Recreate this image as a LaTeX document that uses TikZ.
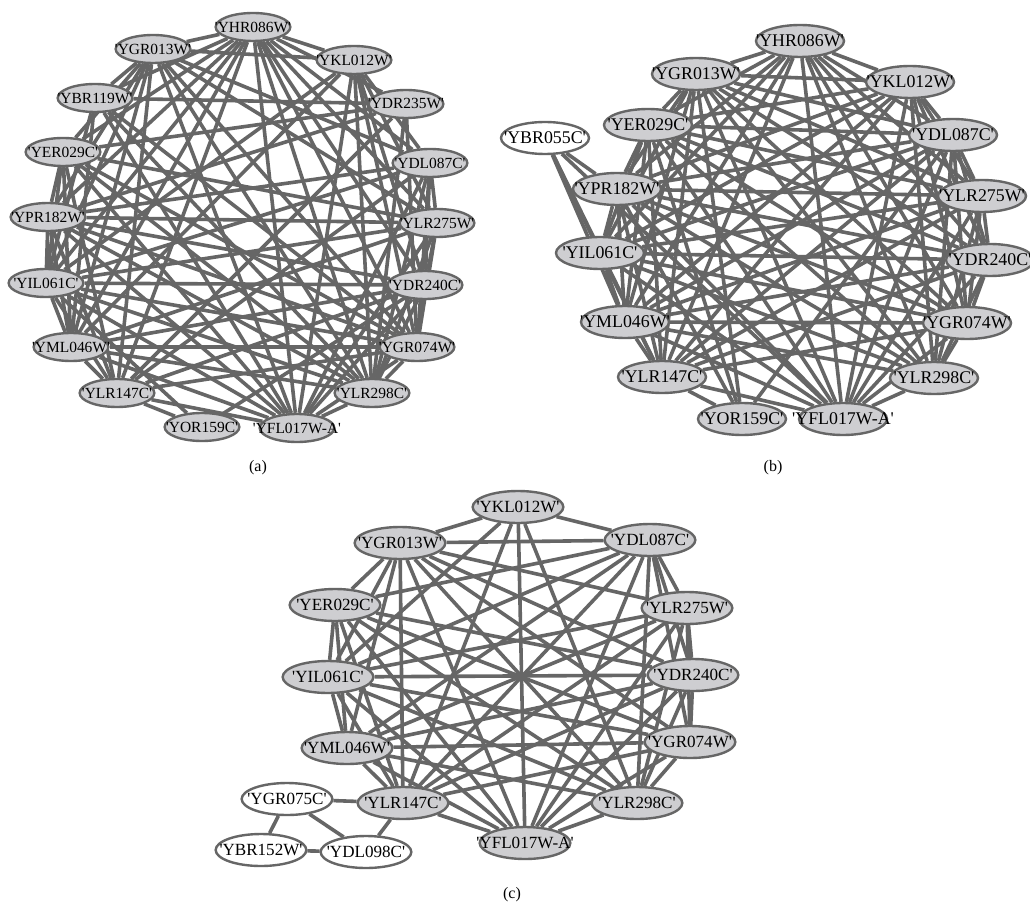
\documentclass[tikz,border=0pt]{standalone}
\usepackage{fontspec}
\setmainfont{Liberation Serif}[Ligatures=TeXOff]
\usetikzlibrary{shapes.geometric,backgrounds}
\definecolor{edgec}{RGB}{102,102,102}
\definecolor{nfill}{RGB}{206,206,209}
\begin{document}
\begin{tikzpicture}[x=0.75pt,y=-0.75pt,
  gn/.style={ellipse, draw=edgec, line width=1.8pt, fill=nfill, inner sep=0pt},
  wn/.style={gn, fill=white},
  sa/.style={minimum width=56pt, minimum height=21pt, font=\fontsize{11.6}{12}\selectfont},
  sb/.style={minimum width=66pt, minimum height=24pt, font=\fontsize{13.4}{14}\selectfont},
  sc/.style={minimum width=68pt, minimum height=24pt, font=\fontsize{12.8}{13}\selectfont},
  edge/.style={draw=edgec, line width=2.7pt},
  captxt/.style={font=\fontsize{12}{13}\selectfont}]
\useasboundingbox (0,0) rectangle (1030,905);
\begin{scope}[on background layer]
\fill[white] (0,0) rectangle (1030,905);
\end{scope}
% ---------------- (a)
\foreach \n/\x/\y/\t in {
 a1/253/27/YHR086W, a2/153/49/YGR013W, a3/354/60/YKL012W, a4/95/98/YBR119W,
 a5/406/104/YDR235W, a6/63/152/YER029C, a7/430/163/YDL087C, a8/48/217/YPR182W,
 a9/437/223/YLR275W, a10/46/283/YIL061C, a11/425/285/YDR240C, a12/71/347/YML046W,
 a13/417/347/YGR074W, a14/117/393/YLR147C, a15/372/393/YLR298C, a16/202/427/YOR159C,
 a17/297/428/YFL017W-A}
 \node[gn,sa] (\n) at (\x,\y) {\makebox[0pt]{'\t'}};
\begin{scope}[on background layer]
\foreach \s/\ts in {
 a1/{a2,a3,a4,a5,a6,a7,a8,a9,a10,a11,a12,a13,a14,a15,a17},
 a2/{a3,a4,a6,a7,a8,a9,a10,a12,a13,a14,a15,a17},
 a3/{a7,a9,a10,a11,a12,a13,a15,a17},
 a4/{a5,a10,a12,a13,a15,a17},
 a5/{a6,a8,a13,a14,a15},
 a6/{a8,a9,a10,a12,a13,a14,a15,a17},
 a7/{a8,a9,a10,a11,a13,a14,a15,a17},
 a8/{a9,a10,a11,a12,a13,a14,a15,a17},
 a9/{a10,a11,a12,a13,a15,a17},
 a10/{a11,a12,a13,a14,a15,a16,a17},
 a11/{a12,a13,a14,a15,a16,a17},
 a12/{a13,a14,a15,a17},
 a13/{a14,a15,a17},
 a14/{a16,a17},
 a15/{a17}}
 \foreach \t in \ts \draw[edge] (\s) -- (\t);
\end{scope}
\node[captxt] (capa) at (258,468) {(a)};
% ---------------- (b)
\foreach \n/\x/\y/\t in {
 b1/800/41/YHR086W, b2/696/74/YGR013W, b3/910/82/YKL012W, b4/648/125/YER029C,
 b6/953/135/YDL087C, b7/617/189/YPR182W, b8/982/196/YLR275W,
 b9/600/253/YIL061C, b10/990/260/YDR240C, b11/625/322/YML046W, b12/967/323/YGR074W,
 b13/662/377/YLR147C, b14/934/378/YLR298C, b15/742/419/YOR159C, b16/843/419/YFL017W-A}
 \node[gn,sb] (\n) at (\x,\y) {\makebox[0pt]{'\t'}};
\node[wn,sb] (b5) at (545,138) {\makebox[0pt]{'YBR055C'}};
\begin{scope}[on background layer]
\foreach \s/\ts in {
 b1/{b2,b3,b4,b6,b7,b8,b9,b10,b11,b12,b13,b14,b16},
 b2/{b3,b4,b6,b7,b8,b9,b10,b11,b12,b13,b14,b15,b16},
 b3/{b4,b6,b7,b8,b9,b10,b11,b12,b13,b14,b16},
 b4/{b6,b7,b8,b9,b10,b11,b12,b13,b14,b15,b16},
 b5/{b7,b9,b11,b13,b16},
 b6/{b7,b8,b9,b10,b11,b12,b13,b14,b15,b16},
 b7/{b8,b9,b10,b11,b12,b13,b14,b15,b16},
 b8/{b9,b10,b11,b12,b13,b14,b16},
 b9/{b10,b11,b12,b13,b14,b16},
 b10/{b11,b12,b13,b14,b16},
 b11/{b12,b13,b14,b16},
 b12/{b13,b14,b16},
 b13/{b15,b16},
 b14/{b16}}
 \foreach \t in \ts \draw[edge] (\s) -- (\t);
\end{scope}
\node[captxt] (capb) at (773,468) {(b)};
% ---------------- (c)
\foreach \n/\x/\y/\t in {
 c1/518/507/YKL012W, c2/650/540/YDL087C, c3/687/608/YLR275W, c4/693/675/YDR240C,
 c5/690/742/YGR074W, c6/637/803/YLR298C, c7/525/843/YFL017W-A, c8/403/803/YLR147C,
 c9/347/748/YML046W, c10/328/677/YIL061C, c11/335/605/YER029C, c12/400/543/YGR013W}
 \node[gn,sc] (\n) at (\x,\y) {\makebox[0pt]{'\t'}};
\foreach \n/\x/\y/\t in {c13/287/799/YGR075C, c14/261/850/YBR152W, c15/366/852/YDL098C}
 \node[wn,sc] (\n) at (\x,\y) {\makebox[0pt]{'\t'}};
\begin{scope}[on background layer]
\foreach \s/\ts in {
 c1/{c2,c6,c7,c8,c10,c12},
 c2/{c3,c4,c5,c6,c7,c8,c9,c10,c11,c12},
 c3/{c4,c5,c6,c7,c8,c9,c10,c12},
 c4/{c5,c6,c7,c8,c9,c10,c11,c12},
 c5/{c6,c7,c8,c9,c10,c11,c12},
 c6/{c7,c9,c10,c11,c12},
 c7/{c8,c9,c10,c11,c12},
 c8/{c9,c10,c11,c12,c13,c15},
 c9/{c10,c11,c12},
 c10/{c11,c12},
 c11/{c12},
 c13/{c14,c15},
 c14/{c15}}
 \foreach \t in \ts \draw[edge] (\s) -- (\t);
\end{scope}
\node[captxt] (capc) at (512,895) {(c)};
\end{tikzpicture}
\end{document}
